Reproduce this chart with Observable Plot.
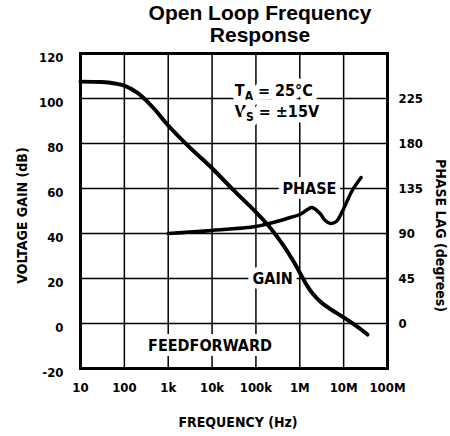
<!DOCTYPE html>
<html>
<head>
<meta charset="utf-8">
<script src="https://cdn.jsdelivr.net/npm/d3@7"></script>
<script src="https://cdn.jsdelivr.net/npm/@observablehq/plot@0.6"></script>
<style>
  html, body { margin: 0; padding: 0; background: white; }
  #wrap { width: 450px; height: 436px; position: relative; overflow: hidden; }
  #title {
    position: absolute; left: 70px; top: 2px; width: 380px;
    text-align: center; font-family: "Liberation Sans", Arial, sans-serif;
    font-weight: bold; font-size: 21px; line-height: 22px; color: black;
  }
  #chart { position: absolute; left: 0; top: 47px; }
  svg { display: block; overflow: visible; }
</style>
</head>
<body>
<div id="wrap">
  <div id="title">Open Loop Frequency<br>Response</div>
  <div id="chart"></div>
</div>
<script>
// ---- data ----
const freqTicks = [10, 100, 1e3, 1e4, 1e5, 1e6, 1e7, 1e8];
const freqLabels = ["10", "100", "1k", "10k", "100k", "1M", "10M", "100M"];
const gainTicks = [-20, 0, 20, 40, 60, 80, 100, 120];
const phaseTicks = [0, 45, 90, 135, 180, 225];

const gainFreq = [10, 30, 60, 100, 200, 300, 500, 1e3, 3e3, 1e4, 3e4, 1e5, 2e5, 4e5, 7e5, 1e6, 1.5e6, 2e6, 3e6, 5e6, 1e7, 2e7, 3.5e7];
const gainDb   = [107.5, 107.3, 106.7, 105.7, 102.5, 99.5, 95, 88, 78.5, 69, 59.5, 49.5, 43.1, 35.4, 28, 22.6, 16.5, 13.1, 9.6, 6.4, 2.7, -1.3, -4.9];

const phaseFreq = [1e3, 1e4, 1e5, 1.6e5, 3.6e5, 6e5, 1e6, 1.5e6, 1.9e6, 2.9e6, 3.8e6, 5e6, 6.8e6, 9.3e6, 1.57e7, 2.5e7];
const phaseDeg  = [90, 93, 97, 99, 103, 106, 109, 114, 116, 110, 103, 100, 102, 112, 133, 146];

const gainData = gainFreq.map((f, i) => ({f, v: gainDb[i]}));
const phaseData = phaseFreq.map((f, i) => ({f, v: phaseDeg[i]}));

// phase axis: 45 degrees per 20 dB, 0 deg at 0 dB
const degPerDb = 45 / 20;

const labels = [
  {text: "PHASE", f: 1.66e6, v: 60},
  {text: "GAIN", f: 2.4e5, v: 20},
  {text: "FEEDFORWARD", f: 9e3, v: -10}
];
const condition = [
  {text: "TA = 25°C", f: 3.3e4, v: 103.6},
  {text: "VS = ±15V", f: 3.3e4, v: 94.2}
];

const font = "DejaVu Sans Condensed";
const freqLabelOf = new Map(freqTicks.map((f, i) => [f, freqLabels[i]]));

const chart = Plot.plot({
  width: 450,
  height: 389,
  marginTop: 6,
  marginLeft: 80,
  marginRight: 63,
  marginBottom: 68,
  x: {type: "log", domain: [10, 1e8]},
  y: {domain: [-20, 120]},
  style: {fontFamily: font, fontWeight: "bold", fontSize: "13px", color: "black", background: "white"},
  marks: [
    Plot.ruleX(freqTicks, {stroke: "black", strokeWidth: 1.5}),
    Plot.ruleY(gainTicks, {stroke: "black", strokeWidth: 1.5}),
    Plot.text(labels, {x: "f", y: "v", text: "text", fontSize: 16, fontWeight: "bold",
      fill: "black", stroke: "white", strokeWidth: 10}),
    Plot.text(condition, {x: "f", y: "v", text: "text", textAnchor: "start", fontSize: 16, fontWeight: "bold",
      fill: "black", stroke: "white", strokeWidth: 11}),
    Plot.frame({stroke: "black", strokeWidth: 3}),
    Plot.line(phaseData, {x: "f", y: d => d.v / degPerDb, curve: "catmull-rom", stroke: "black", strokeWidth: 3.5}),
    Plot.line(gainData, {x: "f", y: "v", curve: "catmull-rom", stroke: "black", strokeWidth: 4}),
    Plot.axisX({ticks: freqTicks, tickFormat: d => freqLabelOf.get(d), tickSize: 0, tickPadding: 14, label: null, fontSize: 13}),
    Plot.axisY({anchor: "left", ticks: gainTicks, tickFormat: d => String(d), tickSize: 0, tickPadding: 17, dy: 4, label: null, fontSize: 13}),
    Plot.axisY({anchor: "right", ticks: phaseTicks.map(p => p / degPerDb), tickFormat: d => String(Math.round(d * degPerDb)), tickSize: 0, tickPadding: 11, label: null, fontSize: 13}),
    Plot.text(["FREQUENCY (Hz)"], {frameAnchor: "bottom", textAnchor: "middle", dy: 58, dx: 4, fontSize: 14, fontWeight: "bold"}),
    Plot.text(["VOLTAGE GAIN (dB)"], {frameAnchor: "left", textAnchor: "middle", dx: -58, dy: 4.5, rotate: -90, fontSize: 14, fontWeight: "bold"}),
    Plot.text(["PHASE LAG (degrees)"], {frameAnchor: "right", textAnchor: "middle", dx: 53, dy: 24.5, rotate: 90, fontSize: 14, fontWeight: "bold"})
  ]
});

// subscripts for T_A and V_S
d3.select(chart).selectAll("text").each(function () {
  const t = this.textContent;
  if (t === "TA = 25°C" || t === "VS = ±15V") {
    const sel = d3.select(this);
    sel.text(null);
    sel.append("tspan").text(t[0]);
    sel.append("tspan").attr("font-size", 12).attr("dy", 4).text(t[1]);
    sel.append("tspan").attr("dy", -4).text(t.slice(2));
  }
});

document.getElementById("chart").appendChild(chart);
</script>
</body>
</html>
